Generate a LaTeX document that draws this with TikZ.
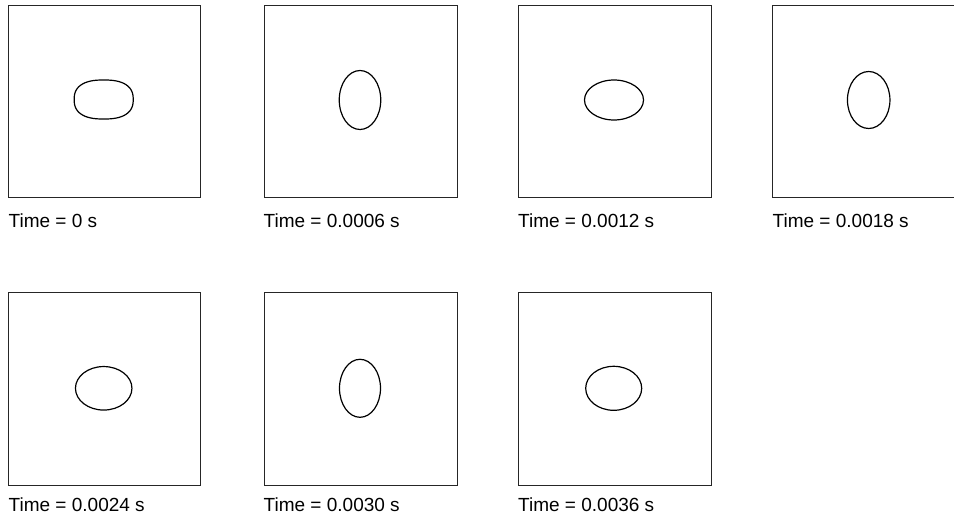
\documentclass[tikz,border=0pt]{standalone}
\usepackage{fontspec}
\setmainfont{Liberation Sans}
\usetikzlibrary{shapes.geometric}
\tikzset{
  frame/.style={draw=black!85, line width=1.1pt, minimum width=192.5pt, minimum height=192.5pt, inner sep=0pt, anchor=north west},
  drop/.style={draw, ellipse, line width=1.2pt, inner sep=0pt},
  dropline/.style={line width=1.2pt},
  lbl/.style={anchor=base west, inner sep=0pt, font=\fontsize{19}{22}\selectfont}
}
\begin{document}
\begin{tikzpicture}[x=1pt,y=-1pt]
\useasboundingbox (0,0) rectangle (954,522);
\clip (0,0) rectangle (954,522);
% row 1
\node[frame] (f1) at (7.5,4.5) {};
\node[frame] (f2) at (264,4.5) {};
\node[frame] (f3) at (518.3,4.5) {};
\node[frame] (f4) at (772.3,4.5) {};
% row 2
\node[frame] (f5) at (7.5,292) {};
\node[frame] (f6) at (264,292) {};
\node[frame] (f7) at (518.3,292) {};
% drops
\coordinate (d1) at (103.7,99.5);
\draw[dropline, shift={(d1)}] plot[domain=1:361, samples=121, smooth cycle]
  ({29.5*sign(cos(\x))*pow(abs(cos(\x)),0.8)}, {19.5*sign(sin(\x))*pow(abs(sin(\x)),0.8)});
\node[drop, minimum width=41.5pt, minimum height=59pt] (d2) at (360,100) {};
\node[drop, minimum width=59pt, minimum height=40pt] (d3) at (614,100) {};
\node[drop, minimum width=42.5pt, minimum height=57pt] (d4) at (868.7,100) {};
\node[drop, minimum width=56.5pt, minimum height=43.5pt] (d5) at (103.7,388.3) {};
\node[drop, minimum width=41pt, minimum height=58pt] (d6) at (360,388.3) {};
\node[drop, minimum width=56pt, minimum height=44pt] (d7) at (613.7,388.3) {};
% labels
\node[lbl] (t1) at (8.5,227) {Time = 0 s};
\node[lbl] (t2) at (263.5,227) {Time = 0.0006 s};
\node[lbl] (t3) at (518,227) {Time = 0.0012 s};
\node[lbl] (t4) at (772.5,227) {Time = 0.0018 s};
\node[lbl] (t5) at (8.5,511.5) {Time = 0.0024 s};
\node[lbl] (t6) at (263.5,511.5) {Time = 0.0030 s};
\node[lbl] (t7) at (518,511.5) {Time = 0.0036 s};
\end{tikzpicture}
\end{document}
